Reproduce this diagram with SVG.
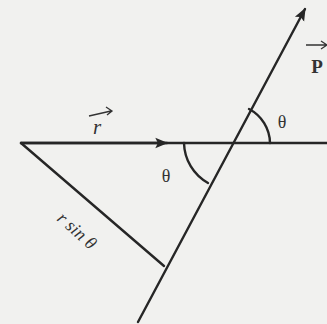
<svg xmlns="http://www.w3.org/2000/svg" width="327" height="324" viewBox="0 0 327 324">
<style>
.ln{stroke:#262626;stroke-width:2.4;fill:none;stroke-linecap:round}
.t{font-family:"Liberation Serif","DejaVu Serif",serif;fill:#333}
.va{stroke:#333;stroke-width:1.3;fill:none}
</style>
<defs>
<marker id="ah2" viewBox="0 0 10 10" refX="9" refY="5" markerWidth="13" markerHeight="13" orient="auto" markerUnits="userSpaceOnUse">
<path d="M0,1 L10,5 L0,9 L2,5 z" fill="#262626"/>
</marker>
</defs>
<rect width="327" height="324" fill="#f1f1ef"/>
<g id="connectors">
<line class="ln" x1="21" y1="143" x2="327" y2="143"/>
<line class="ln" x1="21" y1="143" x2="167" y2="143" marker-end="url(#ah2)"/>
<line class="ln" x1="138" y1="322" x2="305" y2="9" marker-end="url(#ah2)"/>
<line class="ln" x1="21" y1="143" x2="164" y2="266"/>
<path class="ln" d="M270,143 A39,39 0 0 0 249,109" stroke-width="2"/>
<path class="ln" d="M184,143 A47,47 0 0 0 208,183" stroke-width="2"/>
</g>
<g id="labels">
<text class="t" x="97" y="134" font-size="21" font-style="italic" text-anchor="middle">r</text>
<path class="va" d="M89,116 L111,111 M106,107 L112,111 L107,115"/>
<text class="t" x="317" y="73" font-size="19" font-weight="bold" text-anchor="middle">P</text>
<path class="va" d="M306,45 L326,45 M321,41 L327,45 L321,49"/>
<text class="t" x="282" y="128" font-size="18" text-anchor="middle">θ</text>
<text class="t" x="166" y="182" font-size="18" text-anchor="middle">θ</text>
<text class="t" x="73" y="235" font-size="18" font-style="italic" text-anchor="middle" transform="rotate(42 73 235)">r sin θ</text>
</g>
</svg>
